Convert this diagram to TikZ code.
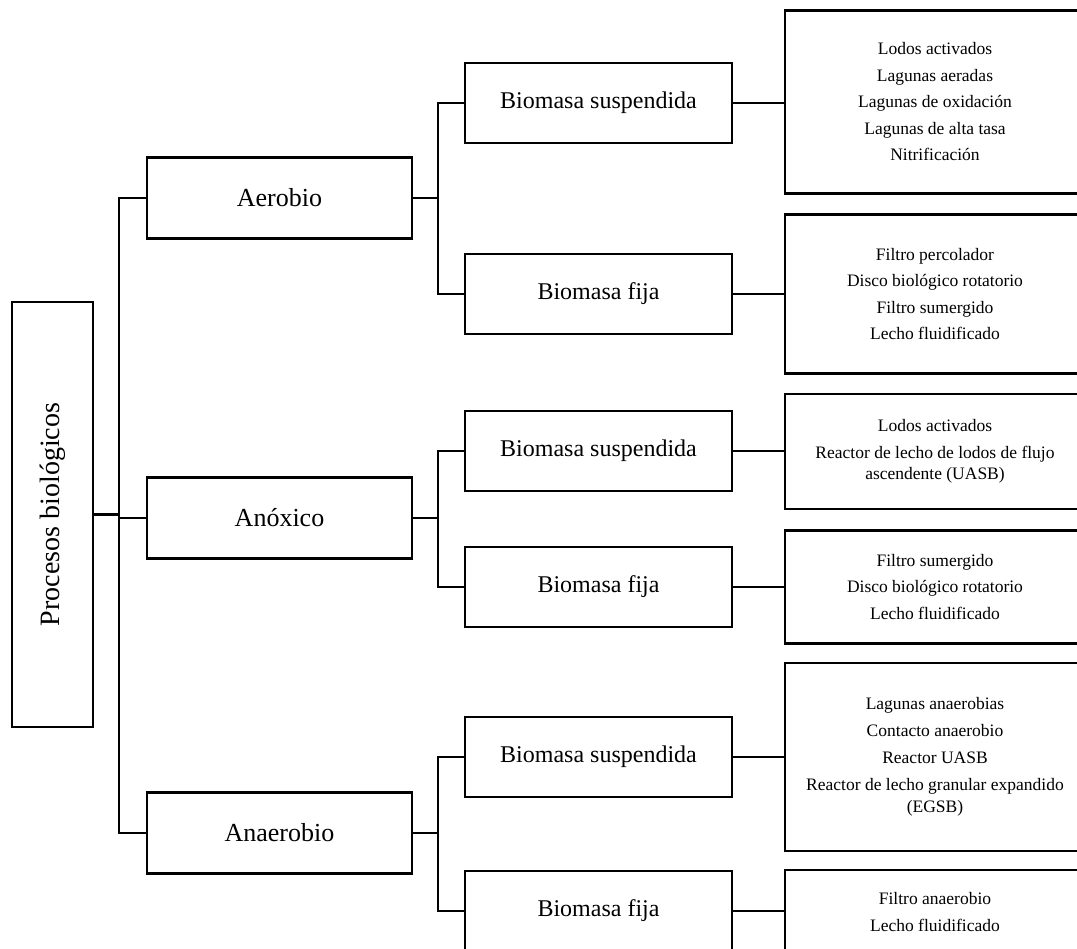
\documentclass[tikz,border=0pt]{standalone}
\usepackage{fontspec}
\setmainfont{Liberation Serif}
\begin{document}
\begin{tikzpicture}[x=1pt,y=-1pt,
  box/.style={draw=black, line width=2.4pt, fill=white, inner sep=0pt, align=center},
  rootbox/.style={box, minimum width=81pt, minimum height=425pt, font=\fontsize{28}{32}\selectfont},
  levelone/.style={box, minimum width=265pt, minimum height=81pt, font=\fontsize{26}{30}\selectfont},
  leveltwo/.style={box, minimum width=267pt, minimum height=80pt, font=\fontsize{24}{28}\selectfont},
  levelthree/.style={box, minimum width=300pt, font=\fontsize{17.5}{21.5}\selectfont},
  link/.style={line width=2.4pt, line join=miter}]
\useasboundingbox (0,0) rectangle (1077,949);
\clip (0,0) rectangle (1077,949);

% root
\node[rootbox] (root) at (52.5,514.5) {\rotatebox{90}{Procesos biológicos}};

% first level
\node[levelone] (aer) at (279.5,198) {Aerobio};
\node[levelone] (anox) at (279.5,518) {Anóxico};
\node[levelone] (anae) at (279.5,833) {Anaerobio};

% second level
\node[leveltwo] (aers) at (598.5,103) {Biomasa suspendida};
\node[leveltwo] (aerf) at (598.5,294) {Biomasa fija};
\node[leveltwo] (anoxs) at (598.5,451) {Biomasa suspendida};
\node[leveltwo] (anoxf) at (598.5,587) {Biomasa fija};
\node[leveltwo] (anaes) at (598.5,757) {Biomasa suspendida};
\node[leveltwo] (anaef) at (598.5,911) {Biomasa fija};

% third level: process lists
\node[levelthree, minimum height=183pt] (l1) at (935,102) {Lodos activados\\[5pt]Lagunas aeradas\\[5pt]Lagunas de oxidación\\[5pt]Lagunas de alta tasa\\[5pt]Nitrificación};
\node[levelthree, minimum height=159pt] (l2) at (935,294) {Filtro percolador\\[5pt]Disco biológico rotatorio\\[5pt]Filtro sumergido\\[5pt]Lecho fluidificado};
\node[levelthree, minimum height=115pt] (l3) at (935,451.5) {Lodos activados\\[5.5pt]Reactor de lecho de lodos de flujo\\ascendente (UASB)};
\node[levelthree, minimum height=113pt] (l4) at (935,587) {Filtro sumergido\\[5pt]Disco biológico rotatorio\\[5pt]Lecho fluidificado};
\node[levelthree, minimum height=188pt] (l5) at (935,757) {Lagunas anaerobias\\[5.5pt]Contacto anaerobio\\[5.5pt]Reactor UASB\\[5.5pt]Reactor de lecho granular expandido\\(EGSB)};
\node[levelthree, minimum height=84pt] (l6) at (935,912) {Filtro anaerobio\\[5pt]Lecho fluidificado};

% bus lines
\coordinate (t0) at (119,0);
\coordinate (t1) at (438,0);

% root to first level
\draw[link] (root.east) -- (root.east -| t0);
\draw[link] (aer.west) -- (aer.west -| t0) -- (anae.west -| t0) -- (anae.west);
\draw[link] (anox.west) -- (anox.west -| t0);

% first level to second level
\draw[link] (aers.west) -- (aers.west -| t1) -- (aerf.west -| t1) -- (aerf.west);
\draw[link] (aer.east) -- (aer.east -| t1);
\draw[link] (anoxs.west) -- (anoxs.west -| t1) -- (anoxf.west -| t1) -- (anoxf.west);
\draw[link] (anox.east) -- (anox.east -| t1);
\draw[link] (anaes.west) -- (anaes.west -| t1) -- (anaef.west -| t1) -- (anaef.west);
\draw[link] (anae.east) -- (anae.east -| t1);

% second level to third level
\draw[link] (aers.east) -- (aers.east -| l1.west);
\draw[link] (aerf.east) -- (aerf.east -| l2.west);
\draw[link] (anoxs.east) -- (anoxs.east -| l3.west);
\draw[link] (anoxf.east) -- (anoxf.east -| l4.west);
\draw[link] (anaes.east) -- (anaes.east -| l5.west);
\draw[link] (anaef.east) -- (anaef.east -| l6.west);
\end{tikzpicture}
\end{document}
